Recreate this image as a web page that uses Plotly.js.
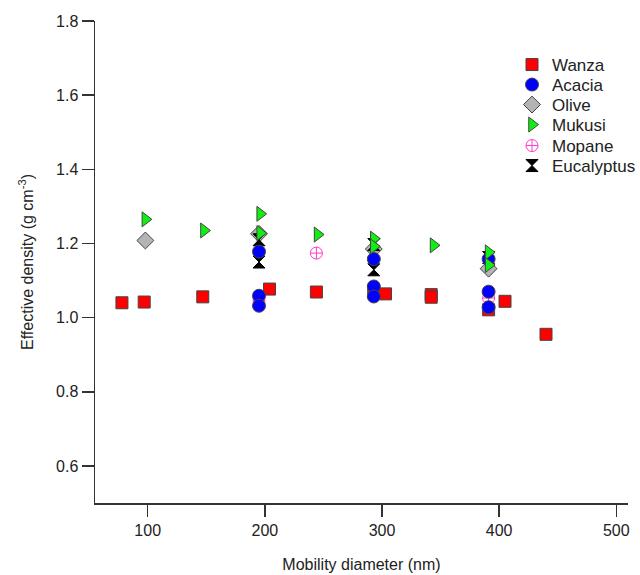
<!DOCTYPE html>
<html>
<head>
<meta charset="utf-8">
<script src="https://cdn.plot.ly/plotly-3.0.1.min.js"></script>
<style>html,body{margin:0;padding:0;background:#fff;}#chart{width:640px;height:575px;}</style>
</head>
<body>
<div id="chart"></div>
<script>
// ---- data ----
const wanzaX = [78, 97, 147, 204, 244, 293, 303, 342, 342, 391, 405, 440];
const wanzaY = [1.040, 1.042, 1.056, 1.077, 1.069, 1.070, 1.064, 1.062, 1.055, 1.021, 1.044, 0.955];

const acaciaX = [195, 195, 195, 293, 293, 293, 391, 391, 391];
const acaciaY = [1.178, 1.059, 1.032, 1.158, 1.084, 1.057, 1.158, 1.070, 1.028];

const oliveX = [98, 195, 293, 391];
const oliveY = [1.208, 1.226, 1.185, 1.132];

const mukusiX = [98, 148, 196, 196, 245, 293, 293, 344, 391, 391];
const mukusiY = [1.265, 1.235, 1.280, 1.228, 1.224, 1.213, 1.192, 1.195, 1.176, 1.142];

const mopaneX = [195, 244, 293, 391];
const mopaneY = [1.046, 1.174, 1.070, 1.053];

const eucalyptusX = [195, 195, 293, 293, 391];
const eucalyptusY = [1.210, 1.150, 1.197, 1.129, 1.162];

const xTicks = [100, 200, 300, 400, 500];
const yTicks = [0.6, 0.8, 1.0, 1.2, 1.4, 1.6, 1.8];

// ---- chart ----
const FONT = 'Liberation Sans, Arial, sans-serif';
const edge = {color: '#444', width: 1};

const traces = [
  {name: 'Mopane', x: mopaneX, y: mopaneY, legend: 'legend5',
   marker: {symbol: 'circle-cross-open', size: 12, color: '#ff3ad0', line: {color: '#ff3ad0', width: 1}}},
  {name: 'Wanza', x: wanzaX, y: wanzaY, legend: 'legend',
   marker: {symbol: 'square', size: 12, color: '#ff0000', line: edge}},
  {name: 'Olive', x: oliveX, y: oliveY, legend: 'legend3',
   marker: {symbol: 'diamond', size: 13, color: '#b4b4b4', line: edge}},
  {name: 'Eucalyptus', x: eucalyptusX, y: eucalyptusY, legend: 'legend6',
   marker: {symbol: 'hourglass', size: 12, color: '#000000', line: {color: '#000', width: 1}}},
  {name: 'Acacia', x: acaciaX, y: acaciaY, legend: 'legend2',
   marker: {symbol: 'circle', size: 13, color: '#0000ff', line: edge}},
  {name: 'Mukusi', x: mukusiX, y: mukusiY, legend: 'legend4',
   marker: {symbol: 'triangle-right', size: 13, color: '#11ee11', line: edge}}
].map(t => Object.assign({type: 'scatter', mode: 'markers', showlegend: true}, t));

const axisCommon = {
  showline: true, linecolor: '#333', linewidth: 1.5,
  ticks: 'outside', ticklen: 12, tickwidth: 1.5, tickcolor: '#333',
  showgrid: false, zeroline: false,
  tickfont: {family: FONT, size: 16, color: '#222'}
};

function legendAt(py) {
  return {x: (512 - 95) / 533, xanchor: 'left', y: (503 - py) / 482, yanchor: 'middle',
          bgcolor: 'rgba(0,0,0,0)', borderwidth: 0,
          font: {family: FONT, size: 17, color: '#222'}};
}

const layout = {
  width: 640, height: 575,
  margin: {l: 95, r: 12, t: 21, b: 72, autoexpand: false},
  paper_bgcolor: '#fff', plot_bgcolor: '#fff',
  font: {family: FONT, color: '#222'},
  xaxis: Object.assign({}, axisCommon, {
    range: [55, 510], tickvals: xTicks, ticktext: xTicks.map(String),
    title: {text: 'Mobility diameter (nm)', font: {family: FONT, size: 16, color: '#222'}, standoff: 21}
  }),
  yaxis: Object.assign({}, axisCommon, {
    range: [0.5, 1.8], tickvals: yTicks, ticktext: yTicks.map(v => v.toFixed(1)),
    title: {text: 'Effective density (g cm<sup>-3</sup>)', font: {family: FONT, size: 16, color: '#222'}, standoff: 18}
  }),
  legend: legendAt(65),
  legend2: legendAt(85),
  legend3: legendAt(105),
  legend4: legendAt(125),
  legend5: legendAt(146),
  legend6: legendAt(166)
};

Plotly.newPlot('chart', traces, layout, {displayModeBar: false, staticPlot: true});
</script>
</body>
</html>
